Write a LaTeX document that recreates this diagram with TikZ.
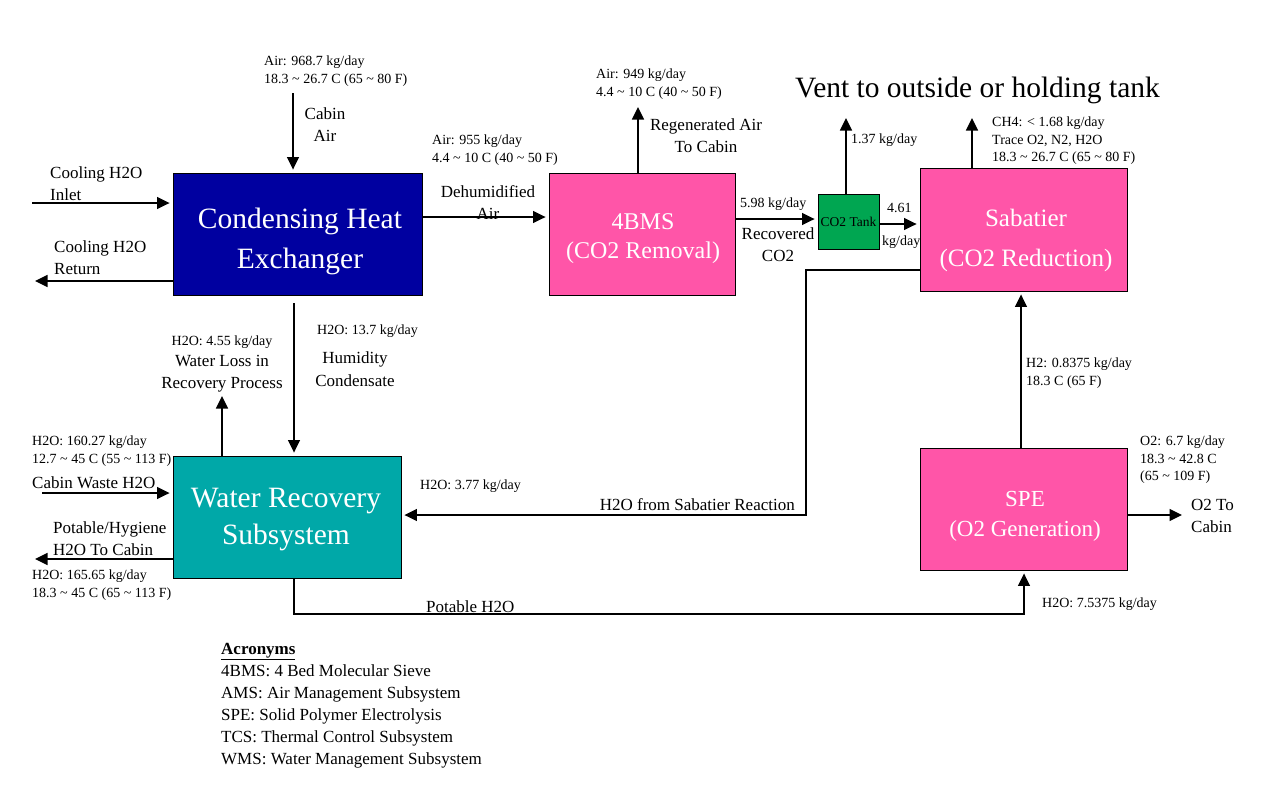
\documentclass[tikz,border=0pt]{standalone}
\usepackage{fontspec}
\setmainfont{Liberation Serif}
\usetikzlibrary{arrows.meta}
\definecolor{chxblue}{HTML}{0000A0}
\definecolor{bpink}{HTML}{FF55A8}
\definecolor{wteal}{HTML}{00A8A8}
\definecolor{tgreen}{HTML}{00A651}
\begin{document}
\begin{tikzpicture}[x=1pt,y=-1pt,
 box/.style={draw=black, line width=0.9pt, inner sep=0},
 btxt/.style={inner sep=0, align=center, text=white},
 arr/.style={line width=1.3pt, shorten >=3pt, -{Triangle[length=12.5pt,width=12pt]}},
 sm/.style={font=\fontsize{14}{18}\selectfont, inner sep=0, align=left},
 md/.style={font=\fontsize{17}{22}\selectfont, inner sep=0, align=left},
]
\useasboundingbox (0,0) rectangle (1275,790);
\fill[white] (0,0) rectangle (1275,790);

% boxes
\node[box, fill=chxblue, minimum width=249pt, minimum height=122pt] (chx) at (297.5,234) {};
\node[btxt, font=\fontsize{29.5}{40}\selectfont] (chxT) at (300,241) {Condensing Heat\\Exchanger};
\node[box, fill=bpink, minimum width=186pt, minimum height=122pt] (bms) at (642,234) {};
\node[btxt, font=\fontsize{24}{29}\selectfont] (bmsT) at (643,239) {4BMS\\(CO2 Removal)};
\node[box, fill=tgreen, minimum width=61pt, minimum height=55pt, font=\fontsize{13.5}{16}\selectfont] (tank) at (848.5,221.5) {CO2 Tank};
\node[box, fill=bpink, minimum width=207pt, minimum height=123pt] (sab) at (1023.5,229.5) {};
\node[btxt, font=\fontsize{25}{40}\selectfont] (sabT) at (1026,240) {Sabatier\\(CO2 Reduction)};
\node[box, fill=wteal, minimum width=228pt, minimum height=122pt] (wrs) at (287,517) {};
\node[btxt, font=\fontsize{29.5}{37}\selectfont] (wrsT) at (286,520) {Water Recovery\\Subsystem};
\node[box, fill=bpink, minimum width=207pt, minimum height=122pt] (spe) at (1023.5,509) {};
\node[btxt, font=\fontsize{23}{30}\selectfont] (speT) at (1025,516) {SPE\\(O2 Generation)};

% connectors
\coordinate (ca) at (293,93);
\draw[arr] (ca) -- (ca |- chx.north);
\coordinate (ci) at (32,203);
\draw[arr] (ci) -- (ci -| chx.west);
\coordinate (cr) at (32,281);
\draw[arr] (cr -| chx.west) -- (cr);
\coordinate (dh) at (480,217);
\draw[arr] (dh -| chx.east) -- (dh -| bms.west);
\coordinate (rg) at (638,104);
\draw[arr] (rg |- bms.north) -- (rg);
\coordinate (rc) at (780,219);
\draw[arr] (rc -| bms.east) -- (rc -| tank.west);
\coordinate (tv) at (846,115);
\draw[arr] (tv |- tank.north) -- (tv);
\coordinate (ts) at (900,224);
\draw[arr] (ts -| tank.east) -- (ts -| sab.west);
\coordinate (sv) at (972,115);
\draw[arr] (sv |- sab.north) -- (sv);
\coordinate (sw1) at (806,270);
\coordinate (sw2) at (806,515);
\draw[arr] (sw1 -| sab.west) -- (sw1) -- (sw2) -- (sw2 -| wrs.east);
\coordinate (hx) at (1021,400);
\draw[arr] (hx |- spe.north) -- (hx |- sab.south);
\coordinate (oc) at (1185,515);
\draw[arr] (oc -| spe.east) -- (oc);
\coordinate (pw) at (294,614);
\coordinate (pe) at (1024,614);
\draw[arr] (pw |- wrs.south) -- (pw) -- (pe) -- (pe |- spe.south);
\coordinate (hc) at (294,400);
\draw[arr, shorten <=8pt] (hc |- chx.south) -- (hc |- wrs.north);
\coordinate (wl) at (222,393);
\draw[arr] (wl |- wrs.north) -- (wl);
\coordinate (cw) at (42,493);
\draw[arr] (cw) -- (cw -| wrs.west);
\coordinate (ph) at (32,559);
\draw[arr] (ph -| wrs.west) -- (ph);

% small labels
\node[sm, anchor=north west] (l1) at (264,56) {Air: 968.7 kg/day\\18.3 \textasciitilde{} 26.7 C (65 \textasciitilde{} 80 F)};
\node[sm, anchor=north west] (l2) at (432,135) {Air: 955 kg/day\\4.4 \textasciitilde{} 10 C (40 \textasciitilde{} 50 F)};
\node[sm, anchor=north west] (l3) at (596,69) {Air: 949 kg/day\\4.4 \textasciitilde{} 10 C (40 \textasciitilde{} 50 F)};
\node[sm, anchor=north west] (l4) at (740,198) {5.98 kg/day};
\node[sm, anchor=north west] (l5) at (851,134) {1.37 kg/day};
\node[sm, anchor=north west] (l6) at (887,203) {4.61};
\node[sm, anchor=north west] (l7) at (882,236) {kg/day};
\node[sm, anchor=north west, font=\fontsize{14}{17.5}\selectfont] (l8) at (992,117) {CH4: < 1.68 kg/day\\Trace O2, N2, H2O\\18.3 \textasciitilde{} 26.7 C (65 \textasciitilde{} 80 F)};
\node[sm, anchor=north west] (l9) at (317,325) {H2O: 13.7 kg/day};
\node[sm, anchor=north] (l10) at (222,336) {H2O: 4.55 kg/day};
\node[sm, anchor=north west] (l11) at (32,436) {H2O: 160.27 kg/day\\12.7 \textasciitilde{} 45 C (55 \textasciitilde{} 113 F)};
\node[sm, anchor=north west] (l12) at (32,570) {H2O: 165.65 kg/day\\18.3 \textasciitilde{} 45 C (65 \textasciitilde{} 113 F)};
\node[sm, anchor=north west] (l13) at (420,480) {H2O: 3.77 kg/day};
\node[sm, anchor=north west] (l14) at (1026,358) {H2: 0.8375 kg/day\\18.3 C (65 F)};
\node[sm, anchor=north west, font=\fontsize{14}{17.5}\selectfont] (l15) at (1140,436) {O2: 6.7 kg/day\\18.3 \textasciitilde{} 42.8 C\\(65 \textasciitilde{} 109 F)};
\node[sm, anchor=north west] (l16) at (1042,598) {H2O: 7.5375 kg/day};

% medium labels
\node[md, anchor=north, align=center] (m1) at (325,108) {Cabin\\Air};
\node[md, anchor=north west] (m2) at (50,167) {Cooling H2O\\Inlet};
\node[md, anchor=north west] (m3) at (54,241) {Cooling H2O\\Return};
\node[md, anchor=north, align=center] (m4) at (488,185) {Dehumidified\\Air};
\node[md, anchor=north, align=center] (m5) at (706,119) {Regenerated Air\\To Cabin};
\node[md, anchor=north, align=center] (m6) at (778,228) {Recovered\\CO2};
\node[md, anchor=north, align=center] (m7) at (355,352) {Humidity\\Condensate};
\node[md, anchor=north, align=center] (m8) at (222,355) {Water Loss in\\Recovery Process};
\node[md, anchor=north west] (m9) at (32,476) {Cabin Waste H2O};
\node[md, anchor=north west] (m10) at (53,521) {Potable/Hygiene\\H2O To Cabin};
\node[md, anchor=north east] (m11) at (795,498) {H2O from Sabatier Reaction};
\node[md, anchor=north west] (m12) at (426,600) {Potable H2O};
\node[md, anchor=north west] (m13) at (1191,499) {O2 To\\Cabin};

% title
\node[inner sep=0, anchor=north west, font=\fontsize{29.5}{34}\selectfont] (vent) at (795,77) {Vent to outside or holding tank};

% acronyms
\node[md, anchor=north west] (acr) at (221,643) {\textbf{\underline{Acronyms}}\\4BMS: 4 Bed Molecular Sieve\\AMS: Air Management Subsystem\\SPE: Solid Polymer Electrolysis\\TCS: Thermal Control Subsystem\\WMS: Water Management Subsystem};
\end{tikzpicture}
\end{document}
